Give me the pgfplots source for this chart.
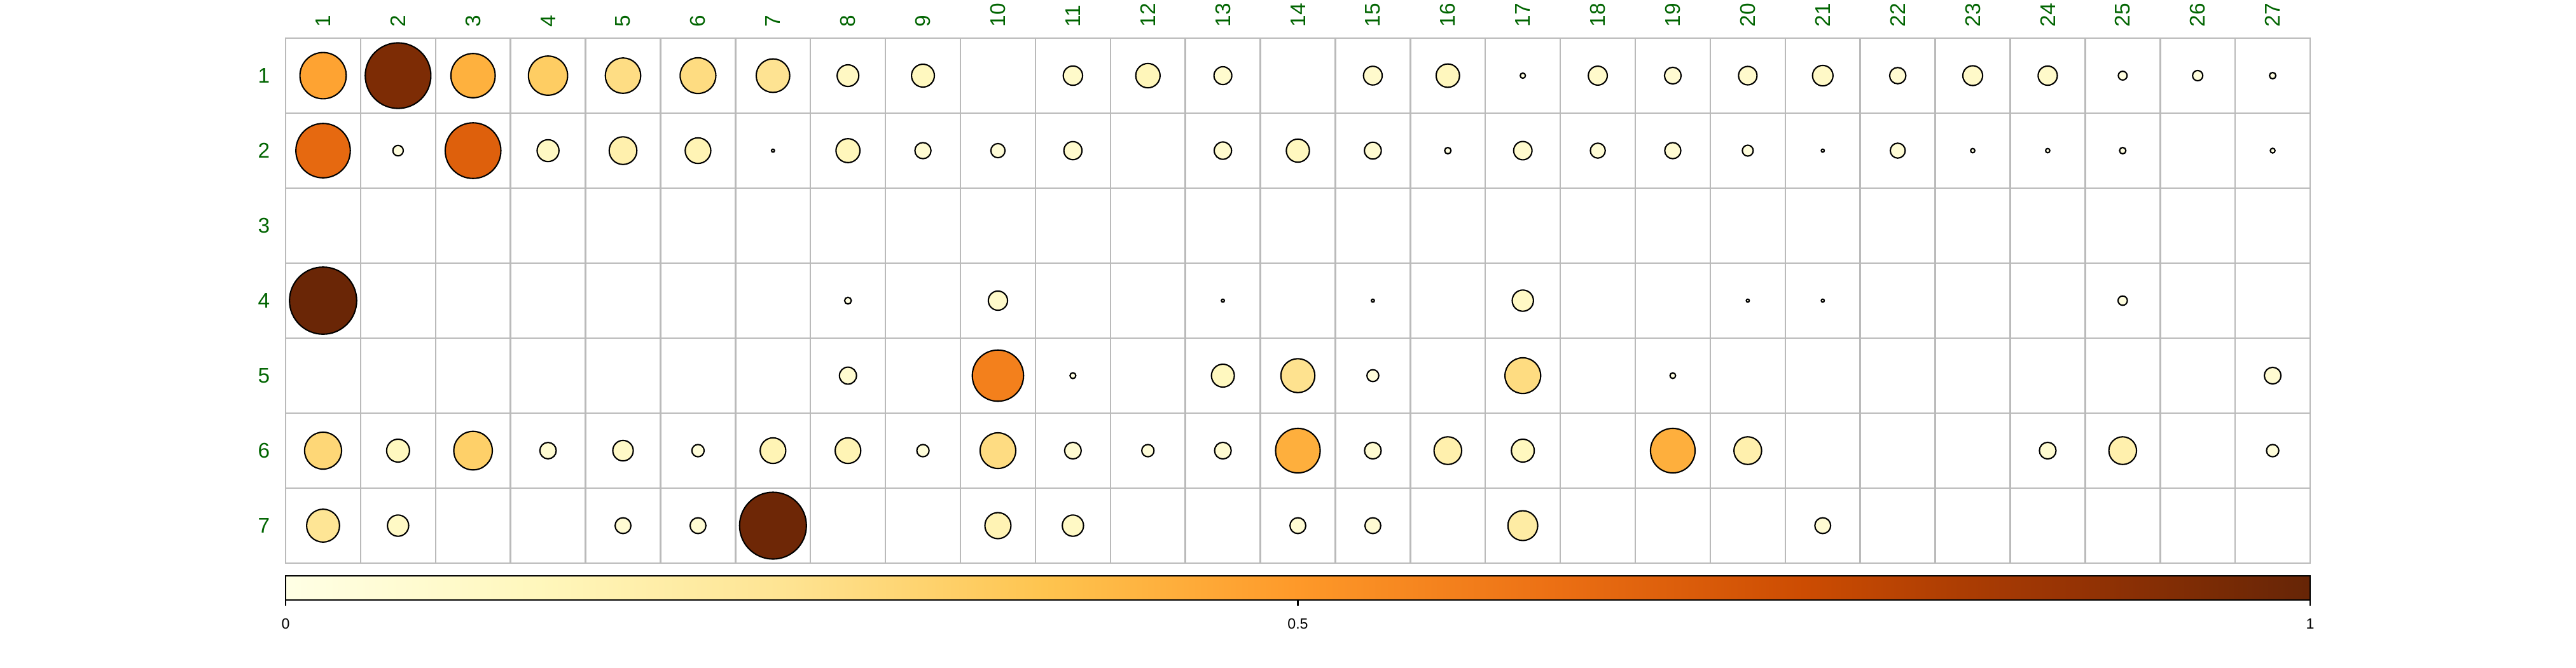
\documentclass[border=0pt]{standalone}
\usepackage{fontspec}
\setmainfont{Liberation Sans}
\usepackage{pgfplots}
\usepackage{pgfplotstable}
\pgfplotsset{compat=1.18}
\pgfplotsset{/pgf/number format/assume math mode=true}
\definecolor{labgreen}{HTML}{006400}
\pgfplotsset{colormap={YlOrBr}{rgb255=(255,255,229) rgb255=(255,247,188) rgb255=(254,227,145) rgb255=(254,196,79) rgb255=(254,153,41) rgb255=(236,112,20) rgb255=(204,76,2) rgb255=(153,52,4) rgb255=(102,37,6)}}
\pgfplotstableread{
x y v
1 1 0.47
2 1 0.945
3 1 0.43
4 1 0.337
5 1 0.275
6 1 0.28
7 1 0.247
8 1 0.103
9 1 0.115
11 1 0.082
12 1 0.13
13 1 0.07
15 1 0.077
16 1 0.12
17 1 0.006
18 1 0.079
19 1 0.061
20 1 0.075
21 1 0.092
22 1 0.058
23 1 0.086
24 1 0.081
25 1 0.017
26 1 0.023
27 1 0.009
1 2 0.65
2 2 0.024
3 2 0.68
4 2 0.105
5 2 0.168
6 2 0.144
7 2 0.002
8 2 0.126
9 2 0.057
10 2 0.044
11 2 0.072
13 2 0.066
14 2 0.117
15 2 0.0625
16 2 0.009
17 2 0.074
18 2 0.049
19 2 0.057
20 2 0.026
21 2 0.002
22 2 0.049
23 2 0.004
24 2 0.004
25 2 0.009
27 2 0.005
1 4 0.99
8 4 0.010
10 4 0.081
13 4 0.002
15 4 0.002
17 4 0.099
20 4 0.002
21 4 0.002
25 4 0.019
8 5 0.064
10 5 0.576
11 5 0.0075
13 5 0.115
14 5 0.253
15 5 0.031
17 5 0.28
19 5 0.007
27 5 0.061
1 6 0.30
2 6 0.115
3 6 0.326
4 6 0.059
5 6 0.092
6 6 0.033
7 6 0.144
8 6 0.144
9 6 0.033
10 6 0.279
11 6 0.061
12 6 0.033
13 6 0.061
14 6 0.436
15 6 0.061
16 6 0.168
17 6 0.115
19 6 0.436
20 6 0.168
24 6 0.061
25 6 0.168
27 6 0.033
1 7 0.238
2 7 0.099
5 7 0.055
6 7 0.055
7 7 0.98
10 7 0.149
11 7 0.099
14 7 0.055
15 7 0.055
17 7 0.195
21 7 0.055
}\data
\begin{document}
\begin{tikzpicture}
\path[use as bounding box] (0,0) rectangle (40.5,10.5);
\begin{axis}[
  at={(4.49cm,1.64cm)}, anchor=south west,
  scale only axis, width=31.83cm, height=8.26cm,
  xmin=0.5, xmax=27.5, ymin=0.5, ymax=7.5,
  y dir=reverse,
  xtick={1,...,27}, ytick={1,...,7},
  minor xtick={0.5,1.5,...,27.5}, minor ytick={0.5,1.5,...,7.5},
  xminorgrids=true, yminorgrids=true,
  minor grid style={draw=black!27, line width=0.7pt},
  axis line style={draw=black!27, line width=0.7pt},
  major tick length=0pt, minor tick length=0pt,
  tick style={draw=none},
  xticklabel pos=upper,
  xticklabel style={rotate=90, anchor=west, inner sep=0pt, inner xsep=0.17cm, text=labgreen, font=\fontsize{9.5}{11}\selectfont},
  yticklabel style={anchor=east, inner sep=0pt, inner xsep=0.24cm, text=labgreen, font=\fontsize{9.5}{11}\selectfont},
  clip=false,
  point meta min=0, point meta max=1,
  colorbar horizontal,
  colorbar style={
    at={(parent axis.south west)}, anchor=north west, yshift=0.10cm,
    width=31.83cm, height=0.38cm, scale only axis,
    xtick={0,0.5,1}, xticklabels={0,0.5,1},
    xtick pos=bottom,
    major tick length=0.09cm, tick align=outside,
    tick style={draw=black, line width=0.6pt},
    axis line style={draw=black, line width=0.8pt},
    xticklabel style={font=\fontsize{6.6}{8}\selectfont, text=black, inner sep=0pt, anchor=north, yshift=-0.2cm},
  },
]
\addplot[
  scatter, only marks, mark=*,
  scatter/use mapped color={draw=black, fill=mapped color},
  mark options={line width=0.6pt},
  point meta=explicit,
  visualization depends on={15.1*sqrt(\thisrow{v}) \as \msize},
  scatter/@pre marker code/.append style={/tikz/mark size=\msize pt},
] table[x=x, y=y, meta=v] {\data};
\end{axis}
\end{tikzpicture}
\end{document}
